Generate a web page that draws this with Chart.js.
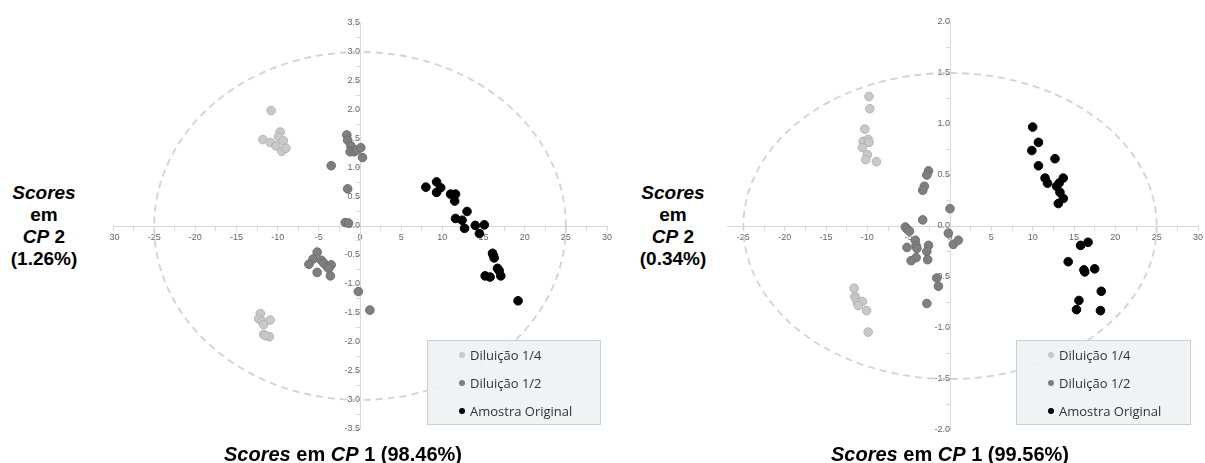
<!DOCTYPE html>
<html>
<head>
<meta charset="utf-8">
<script src="https://cdn.jsdelivr.net/npm/chart.js@4/dist/chart.umd.min.js"></script>
<style>
  body { margin: 0; background: #fff; }
  #wrap { position: relative; width: 1205px; height: 463px; overflow: hidden; font-family: "Liberation Sans", Arial, sans-serif; }
  .clip { position: absolute; top: 0; height: 463px; overflow: hidden; }
  .clip canvas { position: absolute; top: 0; }
  .ytitle { position: absolute; width: 90px; text-align: center; font-weight: bold; font-size: 19px; line-height: 22px; color: #000; }
  .xtitle { position: absolute; width: 320px; text-align: center; font-weight: bold; font-size: 20px; line-height: 22px; color: #000; white-space: nowrap; }
  .legend { position: absolute; box-sizing: border-box; height: 85px; background: rgba(238,240,243,0.88); border: 1px solid #c3d0dd; font-family: "Open Sans", sans-serif; font-size: 13px; color: #333; }
  .legend .row { position: absolute; left: 0; height: 18px; line-height: 18px; white-space: nowrap; }
  .legend .dot { position: absolute; top: 6px; width: 6px; height: 6px; border-radius: 50%; }
  .legend .txt { position: absolute; left: 42px; top: 0; }
</style>
</head>
<body>
<div id="wrap">
  <div class="clip" style="left:110px; width:510px;"><canvas id="c1" width="560" height="463" style="left:-50px;"></canvas></div>
  <div class="clip" style="left:727px; width:478px;"><canvas id="c2" width="555" height="463" style="left:-77px;"></canvas></div>

  <div class="ytitle" style="left:-1px; top:182px;"><i>Scores</i><br>em<br><i>CP</i> 2<br>(1.26%)</div>
  <div class="ytitle" style="left:628px; top:182px;"><i>Scores</i><br>em<br><i>CP</i> 2<br>(0.34%)</div>
  <div class="xtitle" style="left:183px; top:443px;"><i>Scores</i> em <i>CP</i> 1 (98.46%)</div>
  <div class="xtitle" style="left:790px; top:443px;"><i>Scores</i> em <i>CP</i> 1 (99.56%)</div>

  <div class="legend" id="lg1" style="left:427px; top:340px; width:174px;"></div>
  <div class="legend" id="lg2" style="left:1016px; top:340px; width:175px;"></div>
</div>

<script>
const seriesNames = ['Diluição 1/4', 'Diluição 1/2', 'Amostra Original'];

// left chart (CP1 98.46% / CP2 1.26%)
const leftDil4X = [-10.8, -11.8, -10.9, -10.2, -9.7, -9.9, -9.3, -9.5, -9.0, -12.1, -12.3, -11.9, -10.9, -11.7, -11.7, -11.0, -11.5];
const leftDil4Y = [1.99, 1.49, 1.44, 1.38, 1.62, 1.54, 1.47, 1.29, 1.34, -1.51, -1.60, -1.64, -1.62, -1.70, -1.87, -1.91, -1.89];
const leftDil2X = [-1.6, -1.5, -1.1, -1.2, -0.7, -0.4, 0.1, 0.3, -3.5, -1.5, -1.8, -1.4, -5.2, -5.7, -4.7, -6.2, -4.4, -4.0, -3.5, -3.8, -5.2, -3.6, -0.2, 1.2];
const leftDil2Y = [1.57, 1.48, 1.38, 1.28, 1.28, 1.31, 1.35, 1.18, 1.04, 0.64, 0.06, 0.05, -0.45, -0.57, -0.59, -0.66, -0.64, -0.70, -0.67, -0.73, -0.80, -0.86, -1.13, -1.45];
const leftOrigX = [8.0, 9.3, 9.8, 9.3, 11.0, 11.6, 11.5, 13.0, 11.6, 12.4, 12.7, 14.0, 15.1, 14.5, 16.1, 16.2, 16.3, 15.2, 15.8, 16.7, 16.9, 17.1, 19.2];
const leftOrigY = [0.67, 0.76, 0.66, 0.58, 0.55, 0.55, 0.43, 0.25, 0.13, 0.10, -0.04, 0.01, 0.02, -0.13, -0.47, -0.51, -0.55, -0.86, -0.88, -0.73, -0.77, -0.86, -1.29];
const leftEllipse = [25, 3];

// right chart (CP1 99.56% / CP2 0.34%)
const rightDil4X = [-9.8, -9.7, -10.3, -10.5, -9.9, -9.8, -10.6, -10.0, -10.2, -8.9, -11.6, -11.5, -11.4, -11.2, -10.6, -11.1, -10.1, -9.9];
const rightDil4Y = [1.27, 1.15, 0.95, 0.83, 0.85, 0.82, 0.77, 0.70, 0.65, 0.63, -0.61, -0.69, -0.71, -0.75, -0.74, -0.78, -0.83, -1.04];
const rightDil2X = [-2.6, -2.8, -3.1, -3.3, 0.0, -3.3, -5.4, -5.2, -4.9, -0.2, 0.4, 1.0, -4.2, -4.1, -5.2, -4.0, -2.6, -2.8, -4.1, -4.7, -2.7, -1.6, -1.4, -2.8];
const rightDil2Y = [0.54, 0.50, 0.39, 0.35, 0.17, 0.06, -0.01, -0.03, -0.05, -0.07, -0.18, -0.14, -0.14, -0.19, -0.21, -0.22, -0.19, -0.25, -0.31, -0.34, -0.33, -0.51, -0.59, -0.76];
const rightOrigX = [10.0, 10.7, 9.9, 12.7, 10.7, 11.5, 11.8, 13.7, 13.2, 12.9, 13.3, 13.7, 13.1, 15.8, 16.7, 14.3, 16.2, 16.3, 17.5, 18.3, 15.6, 15.3, 18.2];
const rightOrigY = [0.97, 0.82, 0.74, 0.66, 0.59, 0.47, 0.42, 0.47, 0.42, 0.39, 0.33, 0.27, 0.22, -0.19, -0.16, -0.35, -0.43, -0.45, -0.42, -0.64, -0.73, -0.82, -0.83];
const rightEllipse = [25, 1.5];

const xTicksRange = [-30, 30];
const leftYRange = [-3.5, 3.5];
const rightYRange = [-2, 2];

const fills = ['#c9c9c9', '#7f7f7f', '#000000'];
const borders = ['#b3b3b3', '#6e6e6e', '#000000'];

function pts(xs, ys) {
  return xs.map((x, i) => ({ x: x, y: ys[i] }));
}

// dashed confidence ellipse, drawn through the scales
const ellipsePlugin = {
  id: 'ellipse',
  beforeDatasetsDraw(chart, args, opts) {
    const xs = chart.scales.x, ys = chart.scales.y;
    const cx = xs.getPixelForValue(0), cy = ys.getPixelForValue(0);
    const rx = Math.abs(xs.getPixelForValue(opts.rx) - cx);
    const ry = Math.abs(ys.getPixelForValue(opts.ry) - cy);
    const ctx = chart.ctx;
    ctx.save();
    ctx.strokeStyle = '#d2d2d2';
    ctx.lineWidth = 1.8;
    ctx.setLineDash([7, 5]);
    ctx.beginPath();
    ctx.ellipse(cx, cy, rx, ry, 0, 0, Math.PI * 2);
    ctx.stroke();
    ctx.restore();
  }
};

function makeChart(id, sets, yRange, ell, pad) {
  const ctx = document.getElementById(id).getContext('2d');
  return new Chart(ctx, {
    type: 'scatter',
    data: {
      datasets: sets.map((s, i) => ({
        label: seriesNames[i],
        data: s,
        backgroundColor: fills[i],
        borderColor: borders[i],
        borderWidth: 1,
        pointRadius: 4.3
      }))
    },
    options: {
      responsive: false,
      animation: false,
      layout: { padding: pad },
      plugins: {
        legend: { display: false },
        tooltip: { enabled: false },
        ellipse: { rx: ell[0], ry: ell[1] }
      },
      scales: {
        x: {
          type: 'linear',
          position: { y: 0 },
          min: xTicksRange[0],
          max: xTicksRange[1],
          afterFit: (s) => { s.paddingLeft = 0; s.paddingRight = 0; },
          ticks: {
            stepSize: 2.5,
            autoSkip: false,
            maxRotation: 0,
            padding: 2,
            color: '#666',
            font: { family: 'Liberation Sans', size: 9 },
            callback: (v) => (v % 5 === 0 ? String(v) : '')
          },
          grid: { drawOnChartArea: false, drawTicks: true, tickLength: 4, color: '#d9d9d9' },
          border: { display: true, color: '#d9d9d9' }
        },
        y: {
          type: 'linear',
          position: { x: 0 },
          min: yRange[0],
          max: yRange[1],
          afterFit: (s) => { s.paddingTop = 0; s.paddingBottom = 0; },
          ticks: {
            stepSize: 0.25,
            autoSkip: false,
            padding: 4,
            color: '#666',
            font: { family: 'Liberation Sans', size: 9 },
            callback: (v) => (Math.abs(v * 2 - Math.round(v * 2)) < 1e-9 ? v.toFixed(1) : '')
          },
          grid: { drawOnChartArea: false, drawTicks: true, tickLength: 4, color: '#d9d9d9' },
          border: { display: true, color: '#d9d9d9' }
        }
      }
    },
    plugins: [ellipsePlugin]
  });
}

function buildLegend(chart, boxId) {
  const box = document.getElementById(boxId);
  chart.data.datasets.forEach((ds, i) => {
    const row = document.createElement('div');
    row.className = 'row';
    row.style.top = (5 + i * 28) + 'px';
    row.style.width = '100%';
    const dot = document.createElement('span');
    dot.className = 'dot';
    dot.style.left = '31px';
    dot.style.background = ds.backgroundColor;
    const txt = document.createElement('span');
    txt.className = 'txt';
    txt.textContent = ds.label;
    row.appendChild(dot);
    row.appendChild(txt);
    box.appendChild(row);
  });
}

const chartL = makeChart('c1',
  [pts(leftDil4X, leftDil4Y), pts(leftDil2X, leftDil2Y), pts(leftOrigX, leftOrigY)],
  leftYRange, leftEllipse, { left: 53, right: 13, top: 23, bottom: 34 });

const chartR = makeChart('c2',
  [pts(rightDil4X, rightDil4Y), pts(rightDil2X, rightDil2Y), pts(rightOrigX, rightOrigY)],
  rightYRange, rightEllipse, { left: 52, right: 7, top: 22, bottom: 33 });

buildLegend(chartL, 'lg1');
buildLegend(chartR, 'lg2');
</script>
</body>
</html>
